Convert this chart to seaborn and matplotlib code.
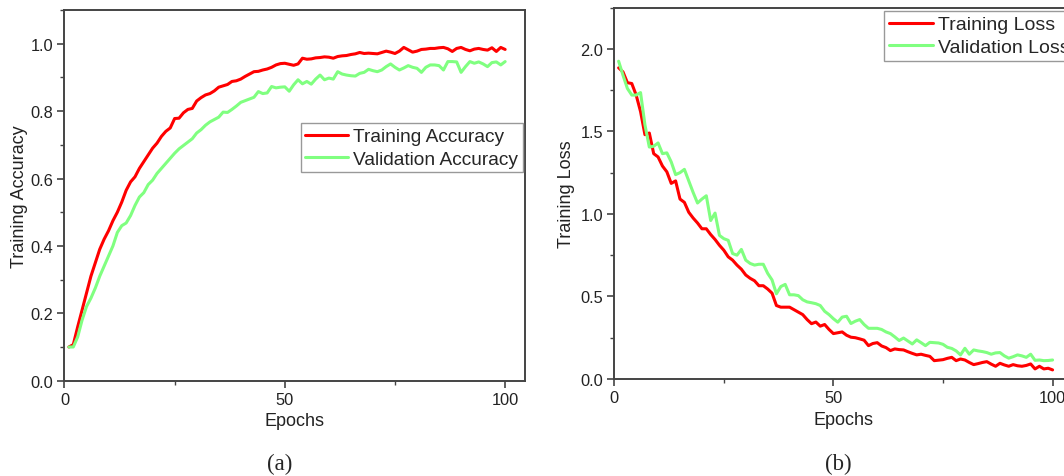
import pandas as pd
import seaborn as sns
import matplotlib.pyplot as plt
from matplotlib.ticker import MultipleLocator

# Values, one per epoch (1..100)
epochs = list(range(1, 101))

train_acc = [
    0.100, 0.107, 0.160, 0.210, 0.260, 0.310, 0.350, 0.390, 0.420, 0.445,
    0.475, 0.500, 0.530, 0.565, 0.590, 0.605, 0.630, 0.650, 0.670, 0.690,
    0.705, 0.725, 0.740, 0.750, 0.778, 0.779, 0.795, 0.805, 0.808, 0.830,
    0.840, 0.848, 0.852, 0.860, 0.871, 0.875, 0.879, 0.888, 0.890, 0.895,
    0.903, 0.910, 0.917, 0.918, 0.922, 0.925, 0.930, 0.937, 0.941, 0.942,
    0.939, 0.936, 0.940, 0.957, 0.954, 0.955, 0.958, 0.959, 0.961, 0.960,
    0.957, 0.962, 0.964, 0.965, 0.968, 0.970, 0.974, 0.971, 0.972, 0.971,
    0.970, 0.974, 0.978, 0.975, 0.971, 0.978, 0.989, 0.982, 0.975, 0.978,
    0.983, 0.984, 0.986, 0.986, 0.988, 0.989, 0.985, 0.977, 0.986, 0.989,
    0.983, 0.979, 0.984, 0.986, 0.983, 0.981, 0.988, 0.977, 0.989, 0.983,
]
val_acc = [
    0.100, 0.100, 0.130, 0.180, 0.220, 0.245, 0.275, 0.310, 0.340, 0.370,
    0.400, 0.440, 0.460, 0.468, 0.490, 0.520, 0.545, 0.558, 0.582, 0.595,
    0.615, 0.630, 0.645, 0.660, 0.675, 0.688, 0.698, 0.708, 0.718, 0.735,
    0.745, 0.758, 0.768, 0.775, 0.782, 0.797, 0.796, 0.805, 0.815, 0.826,
    0.831, 0.836, 0.841, 0.858, 0.852, 0.854, 0.873, 0.869, 0.871, 0.872,
    0.859, 0.878, 0.893, 0.881, 0.888, 0.880, 0.895, 0.907, 0.893, 0.898,
    0.895, 0.917, 0.910, 0.907, 0.905, 0.904, 0.912, 0.915, 0.924, 0.920,
    0.917, 0.922, 0.932, 0.940, 0.930, 0.922, 0.928, 0.935, 0.930, 0.927,
    0.915, 0.930, 0.937, 0.937, 0.935, 0.922, 0.947, 0.947, 0.946, 0.915,
    0.932, 0.947, 0.942, 0.946, 0.940, 0.932, 0.944, 0.946, 0.937, 0.947,
]
train_loss = [
    1.885, 1.860, 1.795, 1.790, 1.720, 1.620, 1.480, 1.490, 1.365, 1.345,
    1.290, 1.255, 1.185, 1.200, 1.090, 1.070, 1.010, 0.975, 0.945, 0.910,
    0.910, 0.875, 0.845, 0.810, 0.780, 0.740, 0.720, 0.690, 0.665, 0.630,
    0.610, 0.595, 0.565, 0.565, 0.545, 0.520, 0.445, 0.435, 0.435, 0.435,
    0.420, 0.405, 0.390, 0.360, 0.335, 0.345, 0.320, 0.330, 0.300, 0.275,
    0.280, 0.285, 0.265, 0.253, 0.250, 0.243, 0.235, 0.202, 0.215, 0.220,
    0.200, 0.190, 0.172, 0.182, 0.178, 0.176, 0.165, 0.155, 0.146, 0.150,
    0.143, 0.137, 0.111, 0.114, 0.117, 0.125, 0.131, 0.111, 0.121, 0.115,
    0.100, 0.087, 0.093, 0.100, 0.105, 0.090, 0.077, 0.095, 0.085, 0.077,
    0.087, 0.080, 0.077, 0.082, 0.091, 0.061, 0.077, 0.061, 0.065, 0.055,
]
val_loss = [
    1.925, 1.840, 1.760, 1.720, 1.720, 1.735, 1.540, 1.405, 1.410, 1.430,
    1.365, 1.370, 1.315, 1.238, 1.250, 1.270, 1.200, 1.130, 1.066, 1.090,
    1.110, 0.960, 1.005, 0.870, 0.850, 0.840, 0.760, 0.750, 0.785, 0.720,
    0.700, 0.690, 0.695, 0.695, 0.640, 0.600, 0.516, 0.560, 0.573, 0.510,
    0.510, 0.505, 0.480, 0.467, 0.462, 0.456, 0.445, 0.410, 0.390, 0.365,
    0.344, 0.375, 0.380, 0.336, 0.350, 0.360, 0.330, 0.307, 0.307, 0.307,
    0.300, 0.285, 0.275, 0.255, 0.233, 0.248, 0.230, 0.212, 0.237, 0.220,
    0.202, 0.222, 0.220, 0.218, 0.210, 0.192, 0.185, 0.170, 0.146, 0.186,
    0.150, 0.176, 0.170, 0.166, 0.160, 0.150, 0.158, 0.160, 0.140, 0.126,
    0.135, 0.146, 0.140, 0.131, 0.150, 0.113, 0.115, 0.111, 0.112, 0.115,
]

acc_df = pd.DataFrame({"Epochs": epochs,
                       "Training Accuracy": train_acc,
                       "Validation Accuracy": val_acc})
loss_df = pd.DataFrame({"Epochs": epochs,
                        "Training Loss": train_loss,
                        "Validation Loss": val_loss})
acc_long = acc_df.melt(id_vars="Epochs", var_name="series", value_name="value")
loss_long = loss_df.melt(id_vars="Epochs", var_name="series", value_name="value")

sns.set_theme(style="ticks")
plt.rcParams["font.family"] = ["Liberation Sans", "DejaVu Sans"]
plt.rcParams["xtick.direction"] = "out"
plt.rcParams["ytick.direction"] = "out"

RED = "#ff0000"
GREEN = "#80ff80"
SPINE = "#444444"

fig = plt.figure(figsize=(10.64, 4.77), dpi=100)
ax1 = fig.add_axes([0.0606, 0.1998, 0.4328, 0.7771])
ax2 = fig.add_axes([0.5773, 0.2034, 0.4305, 0.7786])


def style_axis(ax, ylim, ymajor, yminor, ylabel, ypad):
    ax.set_xlim(0, 104.5)
    ax.set_ylim(*ylim)
    ax.xaxis.set_major_locator(MultipleLocator(50))
    ax.xaxis.set_minor_locator(MultipleLocator(25))
    ax.yaxis.set_major_locator(MultipleLocator(ymajor))
    ax.yaxis.set_minor_locator(MultipleLocator(yminor))
    ax.tick_params(which="major", length=5, width=1.2, color=SPINE,
                   labelsize=11.8, labelcolor="#222222", pad=3)
    ax.tick_params(which="minor", length=3, width=1.0, color=SPINE)
    ax.tick_params(top=False, right=False, which="both")
    for s in ax.spines.values():
        s.set_color(SPINE)
        s.set_linewidth(1.4)
    ax.set_xlabel("Epochs", fontsize=13, color="#222222", labelpad=4)
    ax.set_ylabel(ylabel, fontsize=13, color="#222222", labelpad=ypad)


sns.lineplot(data=acc_long, x="Epochs", y="value", hue="series",
             palette=[RED, GREEN], linewidth=2.2, ax=ax1)
style_axis(ax1, (0, 1.1), 0.2, 0.1, "Training Accuracy", 1.5)
ax1.yaxis.set_major_formatter(plt.FormatStrFormatter("%.1f"))
ax1.legend(title=None, loc="upper right", bbox_to_anchor=(1.0, 0.70),
           fontsize=13.8, frameon=True, fancybox=False, edgecolor="#999999",
           framealpha=1, borderpad=0.25, labelspacing=0.25,
           handlelength=2.25, handletextpad=0.25, borderaxespad=0.1)

sns.lineplot(data=loss_long, x="Epochs", y="value", hue="series",
             palette=[RED, GREEN], linewidth=2.2, ax=ax2)
style_axis(ax2, (0, 2.25), 0.5, 0.25, "Training Loss", 4)
ax2.yaxis.set_major_formatter(plt.FormatStrFormatter("%.1f"))
ax2.legend(title=None, loc="upper left", bbox_to_anchor=(0.590, 0.991),
           fontsize=14, frameon=True, fancybox=False, edgecolor="#999999",
           framealpha=1, borderpad=0.25, labelspacing=0.25,
           handlelength=2.25, handletextpad=0.25, borderaxespad=0.0)

fig.text(280 / 1064, 1 - 464 / 477, "(a)", ha="center", va="center",
         fontsize=16.5, family=["Liberation Serif", "DejaVu Serif"])
fig.text(838 / 1064, 1 - 464 / 477, "(b)", ha="center", va="center",
         fontsize=16.5, family=["Liberation Serif", "DejaVu Serif"])

fig.savefig("out.png", dpi=100)
